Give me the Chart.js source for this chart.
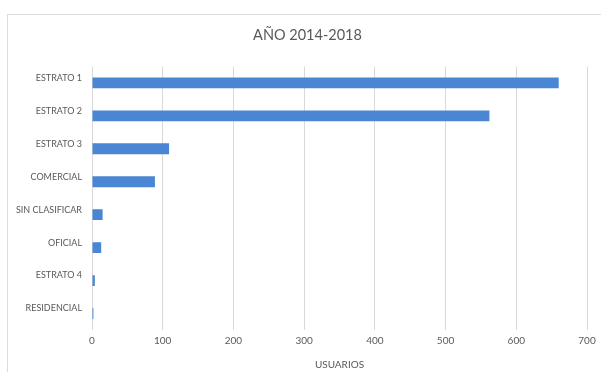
<!DOCTYPE html>
<html>
<head>
<meta charset="utf-8">
<script src="https://cdn.jsdelivr.net/npm/chart.js@4.4.1/dist/chart.umd.min.js"></script>
<style>
  html, body { margin: 0; padding: 0; background: #ffffff; overflow: hidden; }
  #frame { position: absolute; left: 7px; top: 14px; width: 700px; height: 500px;
           border-left: 1px solid #dcdcdc; border-top: 1px solid #dcdcdc; }
  #wrap { position: absolute; left: 0; top: 0; width: 601px; height: 372px; }
</style>
</head>
<body>
<div id="frame"></div>
<div id="wrap"><canvas id="c" width="601" height="372"></canvas></div>
<script>
const categories = ["ESTRATO 1", "ESTRATO 2", "ESTRATO 3", "COMERCIAL", "SIN CLASIFICAR", "OFICIAL", "ESTRATO 4", "RESIDENCIAL"];
const usuarios = [660, 562, 109, 89, 15, 13, 4, 2];
const xTicks = [0, 100, 200, 300, 400, 500, 600, 700];
const chartTitle = "AÑO 2014-2018";
const xAxisTitle = "USUARIOS";

const txt = "#595959";
const fam = "Lato, 'Open Sans', sans-serif";

// shift the title block so it is centred like the reference (between the frame and the plot's right edge)
const titleShift = {
  id: "titleShift",
  afterLayout(chart) {
    if (chart.titleBlock) { chart.titleBlock.left = 28; }
  }
};

new Chart(document.getElementById("c"), {
  type: "bar",
  data: {
    labels: categories,
    datasets: [{
      label: xAxisTitle,
      data: usuarios,
      backgroundColor: "#4a86d4",
      borderWidth: 0,
      categoryPercentage: 1.0,
      barPercentage: 0.33
    }]
  },
  plugins: [titleShift],
  options: {
    indexAxis: "y",
    responsive: false,
    animation: false,
    devicePixelRatio: 1,
    layout: { padding: { left: 0, right: 14, top: 0, bottom: 0 } },
    plugins: {
      legend: { display: false },
      tooltip: { enabled: false },
      title: {
        display: true,
        text: chartTitle,
        color: txt,
        font: { family: fam, size: 14.5, weight: "normal" },
        padding: { top: 27, bottom: 22 }
      }
    },
    scales: {
      x: {
        type: "linear",
        min: xTicks[0],
        max: xTicks[xTicks.length - 1],
        afterBuildTicks: (s) => { s.ticks = xTicks.map(v => ({ value: v })); },
        afterFit: (s) => { s.height = 42; },
        grid: { color: "#d9d9d9", lineWidth: 1, drawTicks: false },
        border: { display: false },
        ticks: { color: txt, padding: 5, font: { family: fam, size: 10 } },
        title: {
          display: true, text: xAxisTitle, color: txt,
          font: { family: fam, size: 10 },
          padding: { top: 0, bottom: 1 }
        }
      },
      y: {
        afterFit: (s) => { s.width = 92; },
        grid: { display: false, drawTicks: false },
        border: { display: false },
        ticks: { color: txt, padding: 10, labelOffset: -5, font: { family: fam, size: 9 } }
      }
    }
  }
});
</script>
</body>
</html>
